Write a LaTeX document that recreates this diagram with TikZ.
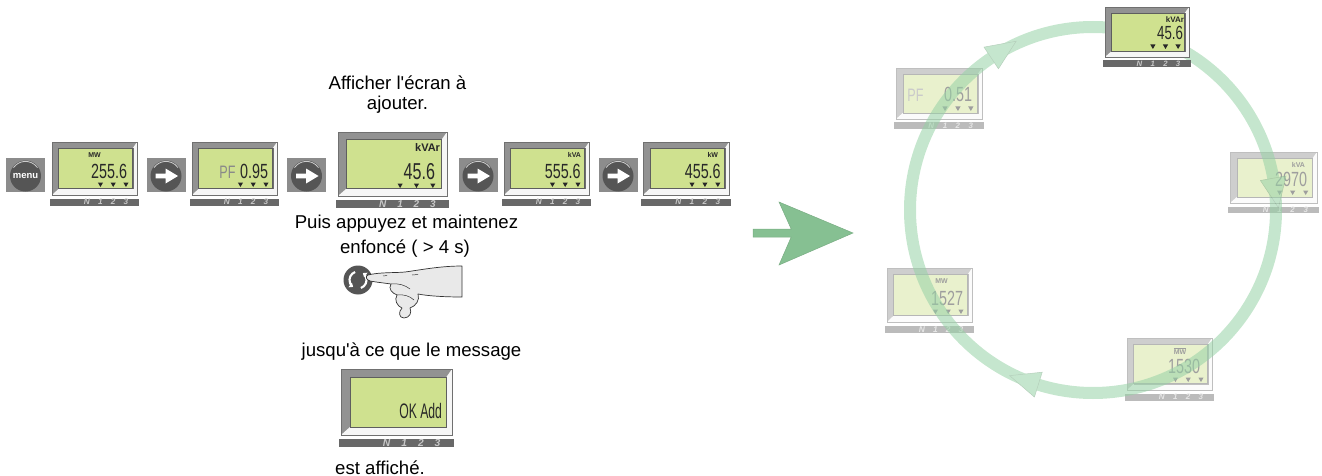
\documentclass[tikz,border=0pt]{standalone}
\usepackage{fontspec}
\setmainfont{Liberation Sans}
\usetikzlibrary{calc,arrows.meta}

\definecolor{lcdgreen}{RGB}{207,225,143}
\definecolor{bezelgray}{RGB}{146,146,146}
\definecolor{bezelhi}{RGB}{246,246,246}
\definecolor{bezelline}{RGB}{112,112,112}
\definecolor{lcdink}{RGB}{40,40,40}
\definecolor{barbg}{RGB}{104,104,104}
\definecolor{barink}{RGB}{200,200,200}
\definecolor{btngray}{RGB}{140,140,140}
\definecolor{btndark}{RGB}{85,85,85}
\definecolor{btnhi}{RGB}{205,205,205}
\definecolor{flowgreen}{RGB}{134,192,146}
\definecolor{cyclegreen}{RGB}{150,210,165}
\definecolor{handfill}{RGB}{233,233,233}
\definecolor{handline}{RGB}{50,50,50}

\newcommand\pxfont[1]{\fontsize{#1}{#1}\selectfont}

% parameters of one meter display
\pgfkeys{/meter/.cd,
  w/.store in=\mw, h/.store in=\mh,
  unit/.store in=\munit, unitx/.store in=\munitx,
  unitanchor/.store in=\munitanchor, unitsize/.store in=\munitsize,
  reading/.store in=\mread, readsize/.store in=\mreadsize,
  readx/.store in=\mreadx, readscale/.store in=\mreadscale,
  marks/.store in=\mmarks, tint/.store in=\mtint, extra/.store in=\mextra}

% LCD meter: bevelled frame, green screen, unit, reading, phase marks, N123 strip
\newcommand\lcdmeter[3][]{%
 \begin{scope}[shift={(#3)}]
  \pgfkeys{/meter/.cd, w=85, h=53, unit={}, unitx=42.5, unitanchor=center,
    unitsize=7, reading={}, readsize=20.5, readx=10, readscale=0.7,
    marks=1, tint=100, extra={}, #1}
  \colorlet{mBez}{bezelgray!\mtint!white}
  \colorlet{mHi}{bezelhi!\mtint!white}
  \colorlet{mLine}{bezelline!\mtint!white}
  \colorlet{mLcd}{lcdgreen!\mtint!white}
  \colorlet{mInk}{lcdink!\mtint!white}
  \colorlet{mBar}{barbg!\mtint!white}
  \colorlet{mBarInk}{barink!\mtint!white}
  \pgfmathsetmacro\mL{0.08*\mw}
  \pgfmathsetmacro\mR{0.95*\mw}
  \pgfmathsetmacro\mT{0.12*\mh}
  \pgfmathsetmacro\mB{0.88*\mh}
  \pgfmathsetmacro\mbT{\mh+3.5}
  \pgfmathsetmacro\mbB{\mh+3.5+0.135*\mh}
  \pgfmathsetmacro\mbF{1.15*0.135*\mh}
  \fill[mBez] (0,0) rectangle (\mw,\mh);
  \fill[mHi] (\mw,0) -- (\mw,\mh) -- (0,\mh) -- (\mL,\mB) -- (\mR,\mB) -- (\mR,\mT) -- cycle;
  \draw[mLine, line width=0.6] (0,0) rectangle (\mw,\mh);
  \draw[mLine, line width=0.4] (\mL,\mB) -- (\mR,\mB) -- (\mR,\mT);
  \fill[mLcd] (\mL,\mT) rectangle (\mR,\mB);
  \draw[mInk!75, line width=0.7] (\mL,\mT) rectangle (\mR,\mB);
  \node[anchor=\munitanchor, font=\pxfont{\munitsize}\bfseries, text=mInk]
    (#2-unit) at (\munitx,{0.25*\mh}) {\munit};
  \node[anchor=base east, font=\pxfont{\mreadsize}, xscale=\mreadscale, text=mInk]
    (#2-value) at ({\mw-\mreadx},{\mh-17}) {\mread};
  \ifnum\mmarks=1
   \foreach \f in {0.57,0.72,0.87}
    \fill[mInk] ({\f*\mw-2.6},{\mh-12.5}) -- ({\f*\mw+2.6},{\mh-12.5}) -- ({\f*\mw},{\mh-8}) -- cycle;
  \fi
  \fill[mBar] (-2,\mbT) rectangle ({\mw+2},\mbB);
  \foreach \f/\t in {0.41/N,0.57/1,0.72/2,0.87/3}
   \node[font=\pxfont{\mbF}\bfseries\itshape, text=mBarInk]
     (#2-phase-\t) at ({\f*\mw},{(\mbT+\mbB)/2}) {\t};
  \mextra
 \end{scope}}

% square key with round cap
\newcommand\padkey[1]{%
  \fill[btngray] ({#1-19.5},158) rectangle ({#1+19.5},192);
  \fill[btndark] (#1,176) circle (15.5);
  \draw[btnhi, line width=0.8] (#1,176) ++(-35:14.6) arc (-35:-145:14.6);}
% white arrow on a key
\newcommand\padarrow[1]{%
  \fill[white] ({#1-10.5},173.6) -- ({#1-0.5},173.6) -- ({#1-0.5},168.5) -- ({#1+12},176)
    -- ({#1-0.5},183.5) -- ({#1-0.5},178.4) -- ({#1-10.5},178.4) -- cycle;}

\tikzset{
  caption/.style={font=\pxfont{18.6}, anchor=base, inner sep=0pt},
  pftext/.style={anchor=base, font=\pxfont{18}, xscale=0.7, text=mInk!55}
}

\begin{document}
\begin{tikzpicture}[x=1pt, y=-1pt, every node/.style={inner sep=0pt, outer sep=0pt}]
\useasboundingbox (0,0) rectangle (1322,476);

% ---------- key sequence ----------
\padkey{25.5}
\node[font=\pxfont{9.5}\bfseries, text=white] (menu-label) at (25.5,176) {menu};
\lcdmeter[unit=MW, unitx=42.5, reading=255.6]{d1}{52,142}
\padkey{166}\padarrow{166}
\lcdmeter[reading=0.95, readx=9,
  extra={\node[pftext] (d2-pf) at (35.5,{\mh-17}) {PF};}]{d2}{192,142}
\padkey{306.5}\padarrow{306.5}
\lcdmeter[w=109, h=64, unit=kVAr, unitanchor=east, unitx=102, unitsize=11,
  reading=45.6, readsize=23, readx=12]{d3}{338,132}
\padkey{478}\padarrow{478}
\lcdmeter[unit=kVA, unitanchor=east, unitx=77, reading=555.6, readx=8.3]{d4}{504,142}
\padkey{618}\padarrow{618}
\lcdmeter[w=86, unit=kW, unitanchor=east, unitx=75, reading=455.6, readx=8.3]{d5}{643,142}

% ---------- instructions ----------
\node[caption] (step-show-1) at (397.5,89.5) {Afficher l\textquotesingle écran à};
\node[caption] (step-show-2) at (397.5,109.5) {ajouter.};
\node[caption] (step-hold-1) at (406.5,228) {Puis appuyez et maintenez};
\node[caption] (step-hold-2) at (405,253) {enfoncé ( > 4 s)};
\node[caption] (step-until) at (411.5,356) {jusqu\textquotesingle à ce que le message};
\node[caption] (step-done) at (380,474.5) {est affiché.};

% round key with circular arrows, pressed by a finger
\fill[btndark] (358,280) circle (14.5);
\draw[white, line width=2.1, -{Triangle[length=3.6pt,width=5.6pt]}]
  (358,280) ++(250:8.5) arc (250:125:8.5);
\draw[white, line width=2.1, -{Triangle[length=3.6pt,width=5.6pt]}]
  (358,280) ++(70:8.5) arc (70:-55:8.5);
\filldraw[fill=handfill, draw=handline, line width=0.7, line join=round]
  (368,275) .. controls (380,272) and (395,273) .. (405,272)
  .. controls (420,270) and (440,266) .. (462,266)
  -- (462,297)
  .. controls (445,297) and (428,296) .. (418,294)
  .. controls (420,300) and (416,306) .. (410,308)
  .. controls (412,312) and (410,318) .. (404,318)
  .. controls (399,318) and (398,312) .. (402,308)
  .. controls (397,306) and (394,300) .. (397,295)
  .. controls (392,293) and (388,289) .. (391,284)
  .. controls (384,283) and (375,282) .. (370,281)
  .. controls (366,280) and (365,276) .. (368,275) -- cycle;
\draw[handline, line width=0.5]
  (391,284) .. controls (398,283) and (405,285) .. (410,289)
  (397,295) .. controls (403,294) and (410,296) .. (414,300)
  (383,276) -- (387,275.5) (412,275) -- (418,274.5);

\lcdmeter[w=111, h=66, reading=OK Add, readsize=21, readscale=0.58, readx=10, marks=0]{d6}{341,369}

% ---------- transition arrow ----------
\filldraw[fill=flowgreen, draw=flowgreen!90!black, line width=0.5]
  (753,229) -- (791.2,229) -- (779,202) -- (853,233) -- (779,265) -- (791.2,237) -- (753,237) -- cycle;

% ---------- scrolling cycle ----------
\coordinate (ringc) at (1093,210);
\lcdmeter[w=86, h=51, reading=0.51, readx=10, tint=45,
  extra={\node[pftext] (c1-pf) at (19.5,{\mh-17}) {PF};}]{c1}{896,68}
\lcdmeter[w=87, h=51, unit=kVA, unitanchor=east, unitx=75, reading=2970, readx=10, tint=45]{c3}{1230,152}
\lcdmeter[w=85, h=54, unit=MW, unitx=54.5, reading=1527, readx=9, tint=45]{c4}{887,268}
\lcdmeter[w=85, h=52, unit={$\overline{\mbox{MW}}$}, unitx=53, reading=1530, readx=12, tint=45]{c5}{1127,338}

\begin{scope}[transparency group, opacity=0.55]
  \draw[cyclegreen, line width=12] (ringc) circle (183);
  \foreach \a in {236.2,-10,107.4}
    \filldraw[fill=cyclegreen, draw=cyclegreen!80!black, line width=0.5]
      ($(ringc)+(\a:183)+(\a+90:30)$) -- ($(ringc)+(\a:196)$) -- ($(ringc)+(\a:170)$) -- cycle;
\end{scope}

\lcdmeter[w=84, h=50, unit=kVAr, unitanchor=east, unitx=79, unitsize=8,
  reading=45.6, readsize=19, readx=6]{c2}{1105,7}
\end{tikzpicture}
\end{document}
